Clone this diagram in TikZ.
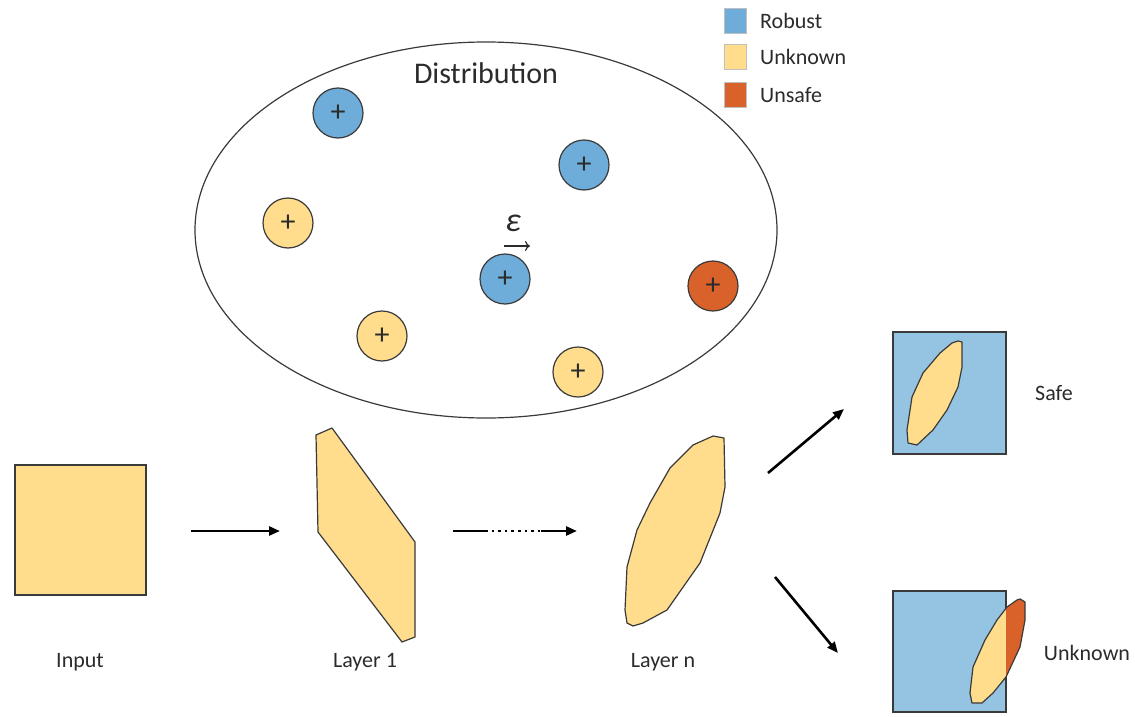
\documentclass[tikz,border=0pt]{standalone}
\usepackage{fontspec}
\setmainfont{Carlito}
\usetikzlibrary{arrows.meta,shapes.geometric}
\definecolor{robust}{HTML}{6EADDA}
\definecolor{safebg}{HTML}{95C3E2}
\definecolor{unknown}{HTML}{FFDD8C}
\definecolor{unsafe}{HTML}{D9622B}
\definecolor{ink}{HTML}{3A3A3A}
\definecolor{txt}{HTML}{2B2B2B}
\begin{document}
\begin{tikzpicture}[x=1pt,y=-1pt,
  outline/.style={draw=ink,line width=1.2pt},
  pt/.style={circle,outline,minimum size=50pt,inner sep=0pt,font=\fontsize{30}{30}\selectfont,text=txt},
  lbl/.style={font=\fontsize{22}{24}\selectfont,text=txt,inner sep=0pt},
  key/.style={minimum width=22pt,minimum height=25pt,inner sep=0pt,draw=black!25,line width=0.6pt},
  flow/.style={line width=2.6pt,-{Triangle[length=11pt,width=9pt]}},
  plain/.style={line width=2.6pt}]
\useasboundingbox (0,0) rectangle (1135,717);

% distribution of sample points
\node[ellipse,outline,minimum width=582pt,minimum height=376pt,inner sep=0pt] (dist) at (486,230) {};
\node[font=\fontsize{30}{32}\selectfont,text=txt] (distlbl) at (486,73) {Distribution};
\node[pt,fill=robust] (p1) at (338,113) {+};
\node[pt,fill=robust] (p2) at (584,165) {+};
\node[pt,fill=unknown] (p3) at (288,223) {+};
\node[pt,fill=robust] (p4) at (505,279) {+};
\node[pt,fill=unsafe] (p5) at (713,286) {+};
\node[pt,fill=unknown] (p6) at (382,336) {+};
\node[pt,fill=unknown] (p7) at (578,372) {+};
\node[font=\fontsize{34}{34}\selectfont\itshape,text=txt,inner sep=0pt] (eps) at (513,223) {ε};
\coordinate (e1) at (504,246);
\coordinate (e2) at (530,246);
\draw[txt,line width=1.2pt,-{To[length=5pt,width=10pt]}] (e1) -- (e2);

% legend
\node[key,fill=robust] (k1) at (735,21) {};
\node[key,fill=unknown] (k2) at (735,57) {};
\node[key,fill=unsafe] (k3) at (735,95) {};
\node[lbl,anchor=west] (t1) at (760,21) {Robust};
\node[lbl,anchor=west] (t2) at (760,57) {Unknown};
\node[lbl,anchor=west] (t3) at (760,95) {Unsafe};

% input box
\node[outline,fill=unknown,minimum width=131pt,minimum height=130pt,inner sep=0pt] (input) at (80.5,530) {};
\node[lbl] (inlbl) at (80,662) {Input};

% layer 1 zonotope
\draw[outline,fill=unknown,line join=round] (316,435) -- (332,428) -- (415,542) -- (415,637)
  -- (402,642) -- (318,532) -- cycle;
\node[lbl] (l1lbl) at (365,662) {Layer 1};

% layer n set
\draw[outline,fill=unknown,line join=round] (713,436) -- (724,438) -- (725,487) -- (720,513)
  -- (700,563) -- (667,610) -- (643,623) -- (633,626) -- (627,623) -- (625,610) -- (627,567)
  -- (637,530) -- (650,503) -- (670,468) -- (693,445) -- cycle;
\node[lbl] (lnlbl) at (663,662) {Layer n};

% safe outcome
\node[outline,fill=safebg,minimum width=113pt,minimum height=122pt,inner sep=0pt] (safebox) at (949.5,393) {};
\draw[outline,fill=unknown,line join=round] (958,341) -- (962,342) -- (962,367) -- (958,387)
  -- (947,410) -- (933,430) -- (917,445) -- (908,443) -- (907,430) -- (912,397) -- (923,373)
  -- (940,353) -- (952,343) -- cycle;
\node[lbl] (safelbl) at (1054,393) {Safe};

% unknown outcome
\node[outline,fill=safebg,minimum width=113pt,minimum height=121pt,inner sep=0pt] (unkbox) at (949.5,651.5) {};
\def\blob{(1020,599) -- (1025,602) -- (1025,620) -- (1020,647) -- (1006,677) -- (993,693)
  -- (982,703) -- (972,703) -- (970,693) -- (973,667) -- (985,640) -- (997,620) -- (1007,607)
  -- (1017,600) -- cycle}
\begin{scope}
  \clip (0,0) rectangle (1006,717);
  \fill[unknown] \blob;
\end{scope}
\begin{scope}
  \clip (1006,0) rectangle (1135,717);
  \fill[unsafe] \blob;
\end{scope}
\draw[outline,line join=round] \blob;
\node[lbl] (unklbl) at (1087,653) {Unknown};

% propagation arrows
\coordinate (a1s) at (191,531);
\coordinate (a1e) at (280,531);
\draw[flow] (a1s) -- (a1e);
\coordinate (a2s) at (453,531);
\coordinate (a2m) at (485,531);
\coordinate (a2n) at (541,531);
\coordinate (a2e) at (577,531);
\draw[plain] (a2s) -- (a2m);
\draw[line width=2.6pt,dash pattern=on 2.6pt off 4pt] (a2m) -- (a2n);
\draw[flow] (a2n) -- (a2e);
\coordinate (a3s) at (768,473);
\coordinate (a3e) at (844,409);
\draw[flow] (a3s) -- (a3e);
\coordinate (a4s) at (775,577);
\coordinate (a4e) at (838,653);
\draw[flow] (a4s) -- (a4e);
\end{tikzpicture}
\end{document}
